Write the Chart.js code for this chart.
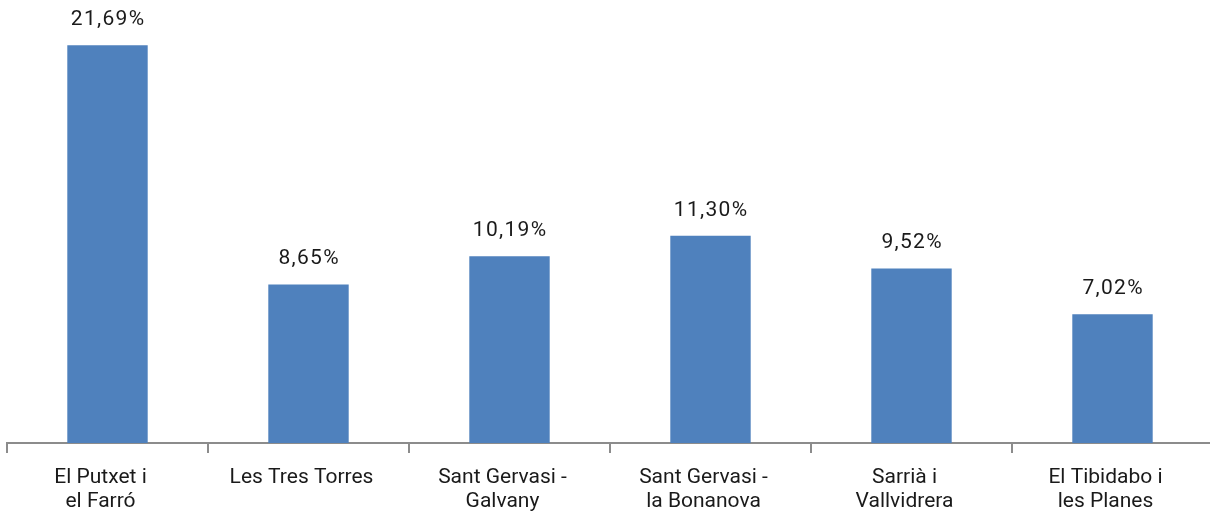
<!DOCTYPE html>
<html>
<head>
<meta charset="utf-8">
<script src="https://cdn.jsdelivr.net/npm/chart.js@4"></script>
<style>
  html, body { margin: 0; padding: 0; background: #fff; overflow: hidden; }
  #wrap { width: 1213px; height: 527px; }
</style>
</head>
<body>
<div id="wrap"><canvas id="barChart"></canvas></div>
<script>
var categories = [
  ["El Putxet i", "el Farró"],
  "Les Tres Torres",
  ["Sant Gervasi -", "Galvany"],
  ["Sant Gervasi -", "la Bonanova"],
  ["Sarrià i", "Vallvidrera"],
  ["El Tibidabo i", "les Planes"]
];
var values = [21.69, 8.65, 10.19, 11.30, 9.52, 7.02];

// percentage labels above each bar
var valueLabels = {
  id: 'valueLabels',
  afterDatasetsDraw(chart) {
    var ctx = chart.ctx;
    var meta = chart.getDatasetMeta(0);
    ctx.save();
    ctx.font = '21px Roboto, "Noto Sans", sans-serif';
    ctx.letterSpacing = '1.3px';
    ctx.fillStyle = '#1a1a1a';
    ctx.textAlign = 'center';
    ctx.textBaseline = 'bottom';
    meta.data.forEach(function (bar, i) {
      var txt = values[i].toFixed(2).replace('.', ',') + '%';
      ctx.fillText(txt, bar.x + 0.6, bar.y - 15);
    });
    ctx.restore();
  }
};

var ctx = document.getElementById('barChart').getContext('2d');
new Chart(ctx, {
  type: 'bar',
  data: {
    labels: categories,
    datasets: [{
      data: values,
      backgroundColor: '#4F81BD',
      categoryPercentage: 0.4,
      barPercentage: 1
    }]
  },
  options: {
    responsive: true,
    maintainAspectRatio: false,
    animation: false,
    layout: { padding: { left: 7, right: 0, top: 3, bottom: 0 } },
    plugins: {
      legend: { display: false },
      tooltip: { enabled: false }
    },
    scales: {
      y: {
        display: false,
        min: 0,
        max: 24
      },
      x: {
        border: { display: true, color: '#8c8c8c', width: 2 },
        grid: {
          display: true,
          offset: true,
          drawOnChartArea: false,
          drawTicks: true,
          tickLength: 10,
          color: '#8c8c8c',
          lineWidth: 2
        },
        ticks: {
          color: '#1a1a1a',
          padding: 13,
          labelOffset: -7,
          maxRotation: 0,
          font: { size: 21, family: 'Roboto, "Noto Sans", sans-serif', lineHeight: '24px' }
        }
      }
    }
  },
  plugins: [valueLabels]
});
</script>
</body>
</html>
